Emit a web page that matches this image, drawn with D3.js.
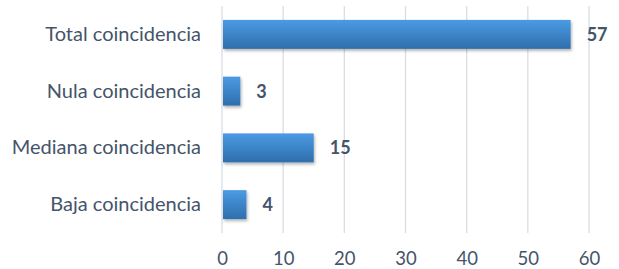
<!DOCTYPE html>
<html>
<head>
<meta charset="utf-8">
<script src="https://cdn.jsdelivr.net/npm/d3@7"></script>
<style>
  body { margin: 0; background: #fff; }
  text { font-family: Lato, sans-serif; }
</style>
</head>
<body>
<div id="chart"></div>
<script>
// chart data
var categories = ["Total coincidencia", "Nula coincidencia", "Mediana coincidencia", "Baja coincidencia"];
var values = [57, 3, 15, 4];
var xTicks = [0, 10, 20, 30, 40, 50, 60];

var svgWidth = 619;
var svgHeight = 269;

var margin = { top: 6, right: 30, bottom: 36, left: 222 };
var chartWidth = svgWidth - margin.left - margin.right;
var chartHeight = svgHeight - margin.top - margin.bottom;

var svg = d3.select("#chart")
  .append("svg")
  .attr("width", svgWidth)
  .attr("height", svgHeight);

var defs = svg.append("defs");
var grad = defs.append("linearGradient")
  .attr("id", "barGrad")
  .attr("x1", 0).attr("y1", 0).attr("x2", 0).attr("y2", 1);
grad.append("stop").attr("offset", "0%").attr("stop-color", "#4b9be4");
grad.append("stop").attr("offset", "100%").attr("stop-color", "#2f6eac");

var shadow = defs.append("filter")
  .attr("id", "shadow")
  .attr("x", "-10%").attr("y", "-20%").attr("width", "130%").attr("height", "160%");
shadow.append("feDropShadow")
  .attr("dx", 1).attr("dy", 2).attr("stdDeviation", 1.5)
  .attr("flood-color", "#000").attr("flood-opacity", 0.3);

var chartGroup = svg.append("g")
  .attr("transform", `translate(${margin.left}, ${margin.top})`);

var xScale = d3.scaleLinear()
  .domain([0, 60])
  .range([0, 367]);

var yScale = d3.scaleBand()
  .domain(categories)
  .range([0, chartHeight])
  .paddingInner(0.49)
  .paddingOuter(0.245);

// vertical gridlines
chartGroup.selectAll(".grid")
  .data(xTicks)
  .enter()
  .append("line")
  .attr("x1", d => xScale(d))
  .attr("x2", d => xScale(d))
  .attr("y1", 0)
  .attr("y2", chartHeight)
  .attr("stroke", "#d9dde4")
  .attr("stroke-width", 1.3);

// x axis labels
var bottomAxis = d3.axisBottom(xScale).tickValues(xTicks).tickSize(0).tickPadding(19);
var xAxis = chartGroup.append("g")
  .attr("transform", `translate(0, ${chartHeight})`)
  .call(bottomAxis);
xAxis.select(".domain").remove();
xAxis.selectAll("text")
  .attr("fill", "#44546a")
  .style("font-size", "18.5px")
  .style("font-family", "Lato, sans-serif");

// y axis labels
var leftAxis = d3.axisLeft(yScale).tickSize(0).tickPadding(21);
var yAxis = chartGroup.append("g").call(leftAxis);
yAxis.select(".domain").remove();
yAxis.selectAll("text")
  .attr("fill", "#44546a")
  .style("font-size", "20px")
  .style("font-family", "Lato, sans-serif");

// bars
chartGroup.selectAll(".bar")
  .data(values)
  .enter()
  .append("rect")
  .attr("x", xScale(0) + 1)
  .attr("y", (d, i) => yScale(categories[i]))
  .attr("width", d => xScale(d) - xScale(0) - 1)
  .attr("height", yScale.bandwidth())
  .attr("fill", "url(#barGrad)")
  .attr("filter", "url(#shadow)");

// value labels
chartGroup.selectAll(".val")
  .data(values)
  .enter()
  .append("text")
  .attr("x", d => xScale(d) + 16)
  .attr("y", (d, i) => yScale(categories[i]) + yScale.bandwidth() / 2)
  .attr("dy", "0.36em")
  .attr("fill", "#44546a")
  .style("font-size", "18px")
  .style("font-weight", "bold")
  .text(d => d);
</script>
</body>
</html>
